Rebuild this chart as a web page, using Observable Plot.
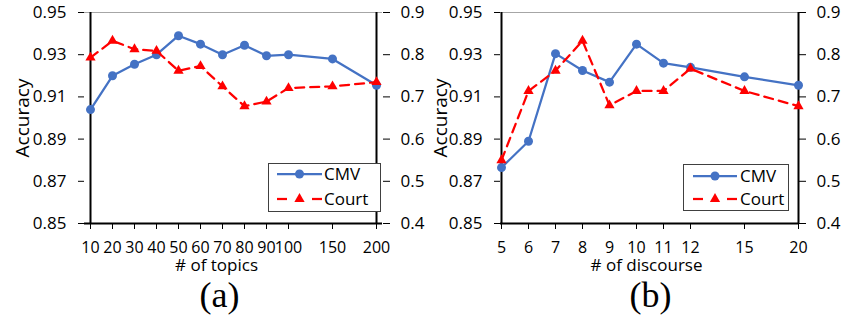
<!DOCTYPE html>
<html><head><meta charset="utf-8">
<script src="https://cdn.jsdelivr.net/npm/d3@7"></script>
<script src="https://cdn.jsdelivr.net/npm/@observablehq/plot@0.6"></script>
<style>
body{margin:0;background:#fff;}
#wrap{position:relative;width:842px;height:322px;overflow:hidden;font-family:"Open Sans",sans-serif;background:#fff;}
.panel{position:absolute;top:0;}
.panel svg{overflow:visible;}
.legend{position:absolute;}
</style></head><body><div id="wrap"></div>
<script>
// Panel (a): number of topics
const topicSlots = ["10","20","30","40","50","60","70","80","90","100","gapA","150","gapB","200"];
const topics = ["10","20","30","40","50","60","70","80","90","100","150","200"];
const topicsCMV = [0.904,0.920,0.9255,0.930,0.939,0.935,0.930,0.9345,0.9295,0.930,0.928,0.9155];
const topicsCourt = [0.793,0.833,0.813,0.809,0.762,0.773,0.725,0.678,0.689,0.721,0.725,0.735];
// Panel (b): number of discourse
const discourseSlots = ["5","6","7","8","9","10","11","12","gapA","15","gapB","20"];
const discourse = ["5","6","7","8","9","10","11","12","15","20"];
const discourseCMV = [0.8765,0.889,0.9305,0.9225,0.917,0.935,0.926,0.924,0.9195,0.9155];
const discourseCourt = [0.55,0.714,0.762,0.833,0.680,0.714,0.714,0.767,0.714,0.678];
// Axis ticks
const leftTicks = [0.85,0.87,0.89,0.91,0.93,0.95];
const rightTicks = [0.4,0.5,0.6,0.7,0.8,0.9];
const seriesNames = ["CMV","Court"];

const BLUE = "#4472C4", RED = "#FF0000";
const toLeft = v => 0.85 + (v - 0.4) * 0.2;
const fromLeft = v => 0.4 + (v - 0.85) / 0.2;
const triR = 3.8;

function panel(o) {
  const rows = o.cats.map((c, i) => ({cat: c, cmv: o.cmv[i], court: toLeft(o.court[i])}));
  return Plot.plot({
    width: o.width, height: 322,
    marginLeft: o.ml, marginRight: o.mr, marginTop: 12, marginBottom: 99,
    style: {fontFamily: "'Open Sans', sans-serif", fontSize: "17px", color: "#000", background: "transparent", overflow: "visible"},
    x: {type: "point", domain: o.slots, padding: 0},
    y: {domain: [0.85, 0.95]},
    marks: [
      Plot.ruleY([0.95], {stroke: "#a6a6a6", strokeWidth: 1}),
      Plot.axisY({anchor: "left", ticks: leftTicks, tickFormat: d3.format(".2f"), tickSize: 6, tickPadding: 12, label: null, fontSize: 17}),
      Plot.axisY({anchor: "right", ticks: rightTicks.map(toLeft), tickFormat: d => fromLeft(d).toFixed(1), tickSize: 7, tickPadding: 11, label: null, fontSize: 17}),
      Plot.axisX({ticks: o.cats, tickSize: 6, tickPadding: 12, label: null, fontSize: 16}),
      Plot.ruleX([o.slots[0], o.slots[o.slots.length - 1]], {stroke: "#000", strokeWidth: 2}),
      Plot.ruleY([0.85], {stroke: "#000", strokeWidth: 2}),
      Plot.line(rows, {x: "cat", y: "cmv", stroke: BLUE, strokeWidth: 2.25}),
      Plot.dot(rows, {x: "cat", y: "cmv", r: 4.5, fill: BLUE}),
      Plot.line(rows, {x: "cat", y: "court", stroke: RED, strokeWidth: 2.25, strokeDasharray: "9,6"}),
      Plot.dot(rows, {x: "cat", y: "court", r: triR, symbol: "triangle", fill: RED}),
      Plot.text([o.xLabel], {frameAnchor: "bottom", lineAnchor: "middle", textAnchor: "middle", dy: 42, dx: o.labelDx, fontSize: 17}),
      Plot.text([o.tag], {frameAnchor: "bottom", lineAnchor: "middle", textAnchor: "middle", dy: 72, dx: o.tagDx, fontSize: 36, fontFamily: "'Liberation Serif', serif"}),
      Plot.text(["Accuracy"], {frameAnchor: "left", textAnchor: "middle", lineAnchor: "middle", rotate: -90, dx: o.accDx, fontSize: 19})
    ]
  });
}

function legend(box) {
  const svg = d3.create("svg").attr("width", box.w).attr("height", box.h)
    .attr("class", "legend").style("left", box.x + "px").style("top", box.y + "px");
  svg.append("rect").attr("x", 0.5).attr("y", 0.5).attr("width", box.w - 1).attr("height", box.h - 1)
    .attr("fill", "#fff").attr("stroke", "#404040").attr("stroke-width", 1);
  const ys = [box.y1, box.y2];
  seriesNames.forEach((name, i) => {
    const g = svg.append("g").attr("transform", `translate(0,${ys[i]})`);
    const mid = (box.l0 + box.l1) / 2;
    if (i === 0) {
      g.append("line").attr("x1", box.l0).attr("x2", box.l1).attr("stroke", BLUE).attr("stroke-width", 2.25);
      g.append("circle").attr("cx", mid).attr("r", 4.5).attr("fill", BLUE);
    } else {
      g.append("line").attr("x1", box.l0).attr("x2", box.l0 + 10).attr("stroke", RED).attr("stroke-width", 2.25);
      g.append("line").attr("x1", box.l1 - 10).attr("x2", box.l1).attr("stroke", RED).attr("stroke-width", 2.25);
      g.append("path").attr("transform", `translate(${mid},0)`)
        .attr("d", d3.symbol(d3.symbolTriangle, Math.PI * triR * triR)()).attr("fill", RED);
    }
    g.append("text").attr("x", box.tx).attr("dy", "0.35em").attr("font-size", 17)
      .attr("font-family", "'Open Sans', sans-serif").attr("fill", "#000").text(name);
  });
  return svg.node();
}

const wrap = document.getElementById("wrap");
const pa = panel({slots: topicSlots, cats: topics, cmv: topicsCMV, court: topicsCourt,
  xLabel: "# of topics", tag: "(a)", width: 421, ml: 84, mr: 39, labelDx: -17, tagDx: -14, accDx: -62});
const pb = panel({slots: discourseSlots, cats: discourse, cmv: discourseCMV, court: discourseCourt,
  xLabel: "# of discourse", tag: "(b)", width: 421, ml: 79, mr: 44, labelDx: -3, tagDx: 1, accDx: -60});
const da = document.createElement("div"); da.className = "panel"; da.style.left = "0px"; da.appendChild(pa);
const db = document.createElement("div"); db.className = "panel"; db.style.left = "421px"; db.appendChild(pb);
wrap.appendChild(da); wrap.appendChild(db);
wrap.appendChild(legend({x: 268, y: 163, w: 113, h: 49, y1: 11, y2: 36, l0: 9, l1: 54, tx: 56}));
wrap.appendChild(legend({x: 683, y: 164, w: 106, h: 47, y1: 12, y2: 35, l0: 10, l1: 54, tx: 57}));
</script></body></html>
